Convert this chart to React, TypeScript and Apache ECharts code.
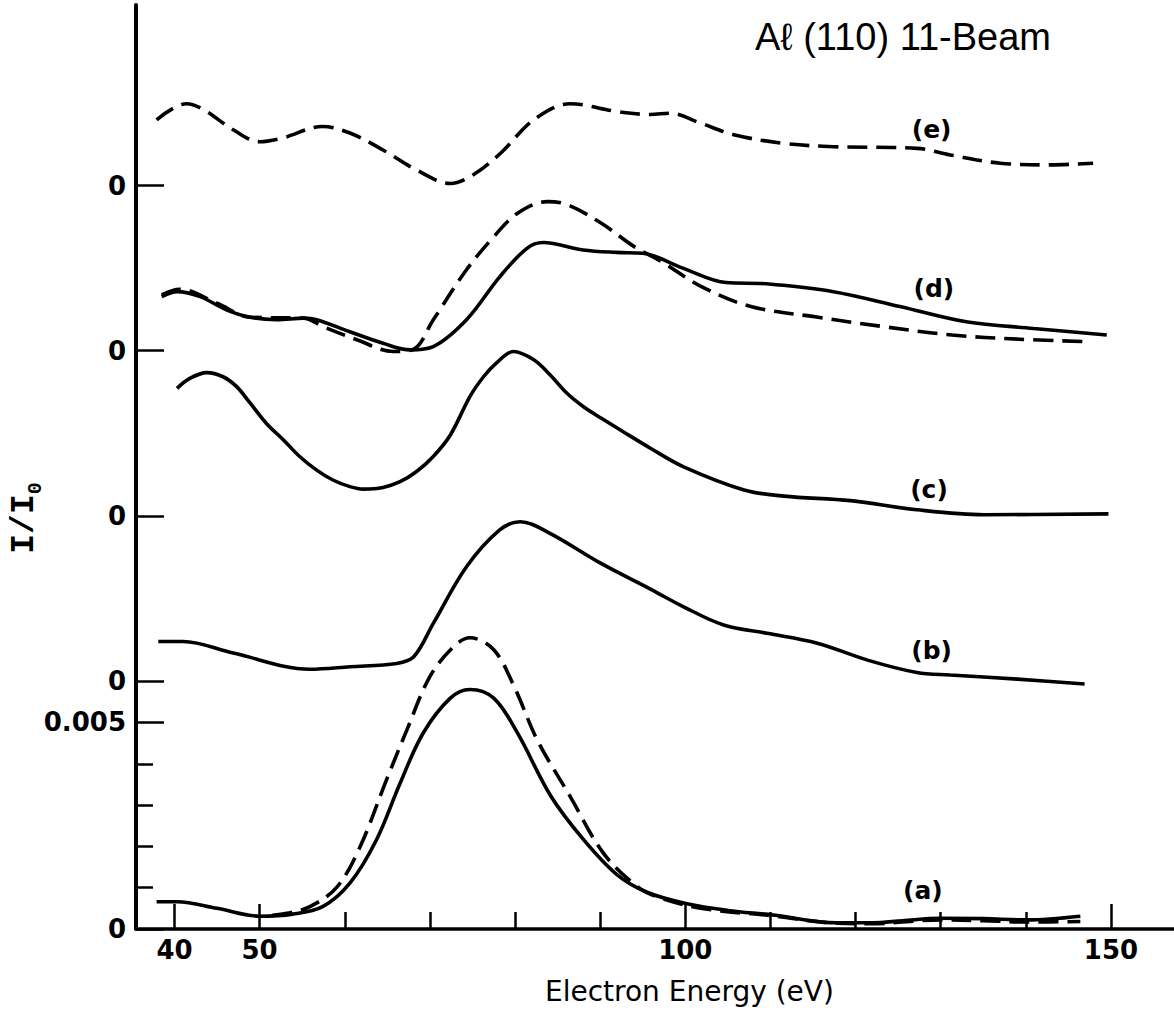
import React, { useEffect, useRef } from "react";
import * as echarts from "echarts";

// ---- axes (energy in eV, intensity in units of 1e-3 of I/I0) ----
const X_MIN = 35.48;
const X_MAX = 157.4;
const Y_MIN = 0;
const Y_MAX = 22.37;

const xLabelTicks = [40, 50, 100, 150];
const xMinorTicks = [60, 70, 80, 90, 110, 120, 130, 140];
const yMajorTicks = [0, 5, 6, 10, 14, 18];
const yMinorTicks = [1, 2, 3, 4];
const yTickLabels: Record<number, string> = { 0: "0", 5: "0.005", 6: "0", 10: "0", 14: "0", 18: "0" };

// ---- vertical offsets of each curve (zero lines) ----
const offsetA = 0;
const offsetB = 6;
const offsetC = 10;
const offsetD = 14;
const offsetE = 18;

// ---- curves: [energy (eV), I/I0 x 1e3 relative to its own zero] ----
const curveASolid: [number, number][] = [
  [37.9, 0.66], [40.3, 0.66], [45.0, 0.5], [50.0, 0.31], [53.9, 0.36], [57.4, 0.54],
  [60.6, 1.11], [63.7, 2.15], [66.5, 3.53], [69.2, 4.74], [72.4, 5.59], [74.7, 5.8],
  [77.5, 5.59], [80.3, 4.74], [84.2, 3.22], [88.1, 2.15], [92.0, 1.31], [95.5, 0.89],
  [100.2, 0.61], [105.0, 0.45], [110.3, 0.34], [117.8, 0.15], [122.0, 0.15], [125.5, 0.2],
  [129.9, 0.26], [135.0, 0.25], [140.1, 0.22], [146.4, 0.31],
];
const curveADashed: [number, number][] = [
  [51.5, 0.33], [53.2, 0.38], [55.9, 0.54], [59.1, 1.02], [61.8, 1.99], [64.9, 3.61],
  [67.3, 4.82], [70.0, 6.11], [72.8, 6.84], [74.7, 7.05], [77.5, 6.76], [79.9, 5.87],
  [82.6, 4.58], [86.5, 3.2], [90.4, 1.83], [94.4, 1.02], [97.1, 0.75], [102.2, 0.49],
  [110.3, 0.32], [117.8, 0.14], [122.0, 0.13], [129.9, 0.22], [135.0, 0.2], [140.1, 0.17],
  [146.4, 0.18],
];
const curveB: [number, number][] = [
  [38.1, 0.96], [41.0, 0.96], [46.9, 0.68], [55.9, 0.29], [60.6, 0.35], [66.1, 0.43],
  [68.1, 0.59], [70.4, 1.4], [74.3, 2.77], [78.2, 3.66], [80.6, 3.86], [84.1, 3.58],
  [90.1, 2.85], [95.9, 2.23], [99.8, 1.8], [104.5, 1.36], [109.6, 1.16], [115.5, 0.92],
  [121.4, 0.51], [127.2, 0.21], [131.1, 0.15], [139.0, 0.05], [146.9, -0.07],
];
const curveC: [number, number][] = [
  [40.3, 3.09], [41.8, 3.33], [43.8, 3.47], [45.7, 3.37], [47.3, 3.13], [48.9, 2.73],
  [50.8, 2.24], [52.8, 1.84], [54.7, 1.44], [56.7, 1.11], [58.6, 0.87], [60.6, 0.71],
  [62.2, 0.65], [64.5, 0.69], [66.5, 0.83], [68.4, 1.07], [70.4, 1.44], [72.4, 1.96],
  [74.7, 2.89], [76.3, 3.37], [77.8, 3.7], [79.8, 3.98], [82.2, 3.78], [84.1, 3.42],
  [86.1, 2.97], [88.0, 2.65], [90.1, 2.37], [92.7, 2.04], [95.9, 1.64], [99.8, 1.19],
  [106.9, 0.63], [111.6, 0.48], [119.4, 0.37], [127.2, 0.15], [135.1, 0.03], [149.7, 0.05],
];
const curveDSolid: [number, number][] = [
  [38.5, 1.31], [40.3, 1.43], [43.0, 1.31], [46.1, 0.99], [48.9, 0.81], [52.0, 0.75],
  [55.2, 0.79], [56.7, 0.75], [60.6, 0.46], [64.5, 0.18], [67.7, 0.02], [70.4, 0.1],
  [74.3, 0.75], [78.2, 1.79], [81.4, 2.48], [83.3, 2.62], [88.0, 2.44], [91.9, 2.38],
  [95.0, 2.36], [99.7, 2.0], [104.8, 1.65], [109.5, 1.62], [117.4, 1.43], [125.2, 1.07],
  [133.0, 0.7], [140.9, 0.54], [149.5, 0.38],
];
const curveDDashed: [number, number][] = [
  [38.5, 1.35], [40.6, 1.49], [45.0, 1.15], [48.9, 0.81], [55.2, 0.79], [57.5, 0.58],
  [61.5, 0.26], [65.7, -0.02], [68.1, 0.04], [70.4, 0.75], [74.3, 1.96], [77.5, 2.76],
  [80.3, 3.33], [83.8, 3.61], [86.2, 3.53], [90.1, 3.09], [94.0, 2.52], [97.2, 2.16],
  [101.9, 1.55], [107.7, 1.07], [115.6, 0.81], [123.4, 0.58], [131.3, 0.38], [139.1, 0.28],
  [147.4, 0.22],
];
const curveE: [number, number][] = [
  [37.9, 1.59], [41.4, 1.98], [43.4, 1.84], [46.9, 1.35], [50.0, 1.06], [52.7, 1.15],
  [57.4, 1.43], [60.6, 1.27], [64.5, 0.86], [68.4, 0.38], [72.4, 0.05], [75.1, 0.26],
  [78.3, 0.78], [82.2, 1.59], [86.5, 1.98], [92.0, 1.79], [95.9, 1.72], [98.2, 1.75],
  [101.8, 1.51], [105.7, 1.23], [111.5, 1.02], [117.4, 0.94], [127.2, 0.9], [131.1, 0.74],
  [137.0, 0.54], [142.9, 0.5], [147.9, 0.54],
];

// ---- curve labels: [text, energy, absolute y] ----
const curveLabels: [string, number, number][] = [
  ["(e)", 128.93, 19.36],
  ["(d)", 129.2, 15.5],
  ["(c)", 128.62, 10.65],
  ["(b)", 128.93, 6.74],
  ["(a)", 127.91, 0.93],
];

const TITLE = "A\u2113 (110) 11-Beam";
const X_NAME = "Electron Energy (eV)";

const DASH = [20, 9];

function shift(arr: [number, number][], off: number) {
  return arr.map(([x, v]) => [x, v + off]);
}

function lineSeries(name: string, arr: [number, number][], off: number, dashed: boolean) {
  return {
    name,
    type: "line",
    xAxisIndex: 0,
    yAxisIndex: 0,
    data: shift(arr, off),
    smooth: 0.35,
    symbol: "none",
    lineStyle: { color: "#000", width: 3.6, type: dashed ? DASH : "solid", cap: "butt" },
    z: 3,
  };
}

export default function App() {
  const ref = useRef<HTMLDivElement>(null);
  useEffect(() => {
    if (!ref.current) return;
    const chart = echarts.init(ref.current, null, { renderer: "svg" });
    const labelFont = { fontFamily: "DejaVu Sans", fontSize: 26, fontWeight: "bold", color: "#000" };
    chart.setOption({
      animation: false,
      backgroundColor: "#fff",
      grid: { left: 136, right: 0, top: 5, bottom: 85, containLabel: false, outerBoundsMode: "none" },
      xAxis: [
        {
          type: "value",
          position: "bottom",
          min: X_MIN,
          max: X_MAX,
          axisLine: { show: true, lineStyle: { color: "#000", width: 3.5 } },
          axisTick: { show: true, inside: true, length: 25, customValues: xLabelTicks, lineStyle: { color: "#000", width: 2.5 } },
          axisLabel: { show: true, customValues: xLabelTicks, margin: 8, ...labelFont },
          splitLine: { show: false },
        },
        {
          type: "value",
          position: "bottom",
          min: X_MIN,
          max: X_MAX,
          axisLine: { show: false },
          axisTick: { show: true, inside: true, length: 17, customValues: xMinorTicks, lineStyle: { color: "#000", width: 2.5 } },
          axisLabel: { show: false },
          splitLine: { show: false },
        },
      ],
      yAxis: [
        {
          type: "value",
          position: "left",
          min: Y_MIN,
          max: Y_MAX,
          axisLine: { show: true, lineStyle: { color: "#000", width: 4 } },
          axisTick: { show: true, inside: true, length: 28, customValues: yMajorTicks, lineStyle: { color: "#000", width: 2.5 } },
          axisLabel: {
            show: true,
            customValues: yMajorTicks,
            margin: 10,
            formatter: (v: number) => yTickLabels[Math.round(v)] ?? "",
            ...labelFont,
          },
          splitLine: { show: false },
        },
        {
          type: "value",
          position: "left",
          min: Y_MIN,
          max: Y_MAX,
          axisLine: { show: false },
          axisTick: { show: true, inside: true, length: 17, customValues: yMinorTicks, lineStyle: { color: "#000", width: 2.5 } },
          axisLabel: { show: false },
          splitLine: { show: false },
        },
      ],
      series: [
        lineSeries("(a)", curveASolid, offsetA, false),
        lineSeries("(a) dashed", curveADashed, offsetA, true),
        lineSeries("(b)", curveB, offsetB, false),
        lineSeries("(c)", curveC, offsetC, false),
        lineSeries("(d)", curveDSolid, offsetD, false),
        lineSeries("(d) dashed", curveDDashed, offsetD, true),
        lineSeries("(e)", curveE, offsetE, true),
        {
          type: "scatter",
          xAxisIndex: 0,
          yAxisIndex: 0,
          symbolSize: 0,
          silent: true,
          itemStyle: { opacity: 1 },
          data: curveLabels.map(([t, x, y]) => ({ name: t, value: [x, y] })),
          label: {
            show: true,
            position: "inside",
            formatter: (p: any) => p.name,
            fontFamily: "DejaVu Sans",
            fontSize: 25,
            fontWeight: "bold",
            color: "#000",
            opacity: 1,
          },
          z: 4,
        },
      ],
      graphic: [
        {
          type: "text",
          x: 755,
          y: 37,
          style: {
            text: TITLE,
            font: '38px "Liberation Sans"',
            fill: "#000",
            align: "left",
            verticalAlign: "middle",
          },
        },
        {
          type: "text",
          x: 545,
          y: 991,
          style: {
            text: X_NAME,
            font: '28px "DejaVu Sans"',
            fill: "#000",
            align: "left",
            verticalAlign: "middle",
          },
        },
        {
          type: "text",
          x: 24,
          y: 518,
          rotation: Math.PI / 2,
          style: {
            text: "I/I{s|0}",
            font: 'bold 33px "Liberation Mono"',
            fill: "#000",
            align: "center",
            verticalAlign: "middle",
            rich: {
              s: { font: 'bold 20px "Liberation Mono"', fill: "#000", verticalAlign: "bottom", padding: [0, 0, -5, 0] },
            },
          },
        },
      ],
    });
    return () => chart.dispose();
  }, []);
  return (
    <div
      ref={ref}
      style={{ position: "fixed", left: 0, top: 0, width: 1174, height: 1014, background: "#fff" }}
    />
  );
}
